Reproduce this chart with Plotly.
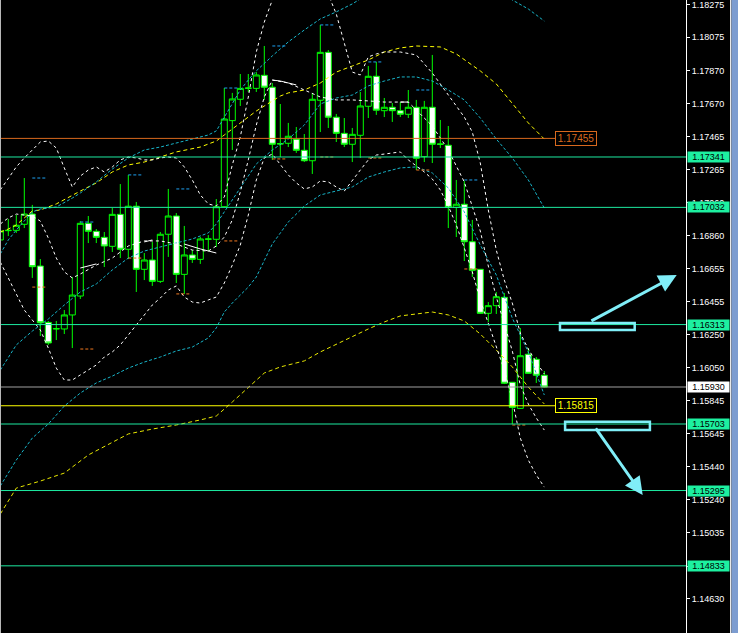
import plotly.graph_objects as go

# ---------------- candle data (bar index 0..68) ----------------
bars = list(range(69))
opens = [1.16832, 1.16889, 1.16891, 1.16928, 1.16991, 1.16672, 1.16326, 1.16286, 1.16286, 1.16372,
         1.16488, 1.16934, 1.16885, 1.16848, 1.16793, 1.16989, 1.16775, 1.17039, 1.16652, 1.16709,
         1.16578, 1.16867, 1.16979, 1.16621, 1.16740, 1.16713, 1.16836, 1.16836, 1.17036, 1.17564,
         1.17695, 1.17762, 1.17762, 1.17842, 1.17769, 1.17423, 1.17425, 1.17450, 1.17382, 1.17318,
         1.17689, 1.17983, 1.17585, 1.17486, 1.17419, 1.17474, 1.17652, 1.17836, 1.17625, 1.17646,
         1.17625, 1.17603, 1.17646, 1.17343, 1.17646, 1.17421, 1.17413, 1.17032, 1.17051, 1.16821,
         1.16652, 1.16382, 1.16429, 1.16480, 1.15959, 1.15799, 1.16131, 1.16100, 1.16002]
highs = [1.16905, 1.16961, 1.16985, 1.17212, 1.17047, 1.16715, 1.16335, 1.16335, 1.16402, 1.16605,
         1.16948, 1.16979, 1.16899, 1.16881, 1.17028, 1.17175, 1.17231, 1.17065, 1.16752, 1.16820,
         1.16881, 1.17145, 1.16997, 1.16918, 1.16770, 1.16850, 1.16862, 1.17083, 1.17764, 1.17734,
         1.17850, 1.17850, 1.17862, 1.18022, 1.17795, 1.17666, 1.17550, 1.17525, 1.17482, 1.17734,
         1.18151, 1.17997, 1.17605, 1.17580, 1.17519, 1.17740, 1.17899, 1.17924, 1.17703, 1.17672,
         1.17678, 1.17752, 1.17691, 1.17685, 1.17967, 1.17568, 1.17531, 1.17200, 1.17194, 1.16955,
         1.16654, 1.16451, 1.16513, 1.16507, 1.15961, 1.16292, 1.16169, 1.16114, 1.16028]
lows = [1.16813, 1.16856, 1.16875, 1.16905, 1.16599, 1.16243, 1.16188, 1.16218, 1.16255, 1.16169,
        1.16470, 1.16813, 1.16813, 1.16666, 1.16758, 1.16721, 1.16715, 1.16513, 1.16586, 1.16550,
        1.16568, 1.16728, 1.16568, 1.16501, 1.16691, 1.16685, 1.16764, 1.16789, 1.17034, 1.17384,
        1.17654, 1.17740, 1.17740, 1.17691, 1.17323, 1.17341, 1.17402, 1.17366, 1.17310, 1.17237,
        1.17494, 1.17519, 1.17433, 1.17402, 1.17310, 1.17335, 1.17580, 1.17599, 1.17586, 1.17556,
        1.17586, 1.17580, 1.17261, 1.17310, 1.17304, 1.17396, 1.16905, 1.16850, 1.16703, 1.16605,
        1.16378, 1.16329, 1.16378, 1.15948, 1.15703, 1.15795, 1.16010, 1.15955, 1.15927]
closes = [1.16887, 1.16891, 1.16922, 1.16991, 1.16668, 1.16324, 1.16200, 1.16288, 1.16372, 1.16494,
          1.16934, 1.16885, 1.16848, 1.16795, 1.16989, 1.16775, 1.17039, 1.16652, 1.16709, 1.16578,
          1.16867, 1.16979, 1.16621, 1.16740, 1.16713, 1.16838, 1.16838, 1.17036, 1.17574, 1.17697,
          1.17762, 1.17764, 1.17844, 1.17769, 1.17419, 1.17421, 1.17468, 1.17382, 1.17318, 1.17695,
          1.17983, 1.17585, 1.17486, 1.17419, 1.17480, 1.17654, 1.17836, 1.17628, 1.17646, 1.17625,
          1.17603, 1.17646, 1.17333, 1.17646, 1.17419, 1.17419, 1.17032, 1.17051, 1.16821, 1.16646,
          1.16382, 1.16429, 1.16484, 1.15953, 1.15805, 1.16122, 1.16014, 1.16002, 1.15930]

# ---------------- indicator curves (bar index, price) ----------------
ma_slow_idx = [0, 2, 5, 8, 11, 14, 16, 19, 22, 25, 27, 29, 31, 33, 35, 38, 40, 43, 46, 48,
               50, 54, 56, 58, 60, 62, 64, 66, 68]
ma_slow = [1.15151, 1.15310, 1.15353, 1.15402, 1.15513, 1.15593, 1.15642, 1.15672, 1.15697, 1.15728,
           1.15752, 1.15838, 1.15924, 1.16016, 1.16053, 1.16090, 1.16145, 1.16218, 1.16286, 1.16329,
           1.16366, 1.16390, 1.16372, 1.16335, 1.16255, 1.16157, 1.16053, 1.15930, 1.15826]

ma_fast_idx = [0, 1, 2, 4, 5, 7, 10, 12, 14, 16, 18, 20, 22, 25, 27, 28, 30, 32, 33, 35,
               36, 38, 40, 42, 44, 46, 48, 50, 52, 55, 57, 60, 62, 64, 66, 68]
ma_fast = [1.16881, 1.16899, 1.16924, 1.17010, 1.17016, 1.17053, 1.17132, 1.17182, 1.17249, 1.17292,
           1.17310, 1.17341, 1.17372, 1.17402, 1.17439, 1.17476, 1.17550, 1.17623, 1.17654, 1.17715,
           1.17734, 1.17752, 1.17795, 1.17862, 1.17899, 1.17936, 1.17985, 1.18010, 1.18022, 1.18016,
           1.17973, 1.17869, 1.17789, 1.17666, 1.17550, 1.17451]

cyan_idx = [0, 2, 4, 6, 8, 10, 12, 14, 16, 18, 20, 22, 24, 26, 27, 28, 29, 30, 31, 32,
            34, 36, 38, 40, 42, 44, 46, 48, 50, 52, 54, 56, 58, 60, 62, 64, 66, 68]
cyan_mid = [1.16034, 1.16188, 1.16273, 1.16347, 1.16433, 1.16513, 1.16562, 1.16648, 1.16721, 1.16764,
            1.16789, 1.16813, 1.16838, 1.16875, 1.16930, 1.17004, 1.17077, 1.17151, 1.17218, 1.17298,
            1.17384, 1.17451, 1.17537, 1.17666, 1.17703, 1.17721, 1.17777, 1.17807, 1.17832, 1.17832,
            1.17807, 1.17752, 1.17691, 1.17580, 1.17451, 1.17335, 1.17200, 1.17028]
cyan_low = [1.15323, 1.15482, 1.15617, 1.15703, 1.15813, 1.15893, 1.15955, 1.15997, 1.16046, 1.16083,
            1.16114, 1.16151, 1.16175, 1.16231, 1.16292, 1.16390, 1.16445, 1.16494, 1.16543, 1.16605,
            1.16807, 1.16942, 1.17040, 1.17108, 1.17132, 1.17157, 1.17218, 1.17249, 1.17274, 1.17280,
            1.17243, 1.17151, 1.17004, 1.16801, 1.16617, 1.16353, 1.16145, 1.15881]
cyan_up_idx = [0, 1, 2, 4, 5, 7, 9, 10, 12, 14, 16, 18, 20, 22, 24, 26, 27, 28, 29, 30,
               31, 32, 34, 36, 38, 40, 42, 44, 46, 63, 64, 66, 68]
cyan_up = [1.16746, 1.16832, 1.16893, 1.17004, 1.17022, 1.17034, 1.17089, 1.17120, 1.17188, 1.17267,
           1.17335, 1.17384, 1.17402, 1.17427, 1.17451, 1.17476, 1.17501, 1.17586, 1.17672, 1.17752,
           1.17813, 1.17869, 1.17961, 1.18047, 1.18120, 1.18188, 1.18231, 1.18280, 1.18341, 1.18335,
           1.18304, 1.18249, 1.18175]

bb_up_idx = list(range(0, 37)) + [38, 40] + list(range(41, 49)) + [50] + list(range(52, 69))
bb_up = [1.17139, 1.17212, 1.17280, 1.17335, 1.17384, 1.17433, 1.17439, 1.17396, 1.17274, 1.17157,
         1.17224, 1.17261, 1.17280, 1.17249, 1.17280, 1.17323, 1.17341, 1.17335, 1.17323, 1.17323,
         1.17335, 1.17341, 1.17335, 1.17280, 1.17200, 1.17108, 1.17053, 1.17040, 1.17096, 1.17292,
         1.17464, 1.17709, 1.17985, 1.18169, 1.18304, 1.18427, 1.18519, 1.18550, 1.18458, 1.18335,
         1.18218, 1.18040, 1.17862, 1.17844, 1.17955, 1.17973, 1.17985, 1.17985, 1.17967, 1.17912,
         1.17856, 1.17789, 1.17721, 1.17660, 1.17586, 1.17494, 1.17304, 1.17016, 1.16770, 1.16586,
         1.16445, 1.16261, 1.16163, 1.16083, 1.16010]
bb_low = [1.16697, 1.16599, 1.16494, 1.16402, 1.16341, 1.16280, 1.16169, 1.16046, 1.15973, 1.15973,
          1.16004, 1.16034, 1.16065, 1.16114, 1.16145, 1.16188, 1.16249, 1.16310, 1.16372, 1.16433,
          1.16476, 1.16525, 1.16550, 1.16482, 1.16451, 1.16445, 1.16464, 1.16482, 1.16568, 1.16678,
          1.16801, 1.16985, 1.17200, 1.17335, 1.17359, 1.17292, 1.17231, 1.17182, 1.17145, 1.17157,
          1.17194, 1.17188, 1.17157, 1.17132, 1.17200, 1.17261, 1.17323, 1.17353, 1.17359, 1.17366,
          1.17372, 1.17323, 1.17286, 1.17249, 1.17206, 1.17139, 1.17040, 1.16924, 1.16783, 1.16636,
          1.16464, 1.16323, 1.16188, 1.16034, 1.15850, 1.15617, 1.15482, 1.15390, 1.15316]
bb_mid_idx = [0, 1, 2, 4, 5, 6, 7, 8, 9, 10, 12, 14, 16, 18, 20, 22, 24, 26, 27, 28, 29,
              30, 31, 32, 33, 34, 36, 38, 40, 42, 44, 46, 48, 50, 51, 52, 54, 56, 58, 60, 61,
              62, 63, 64, 65, 66, 67, 68]
bb_mid = [1.16930, 1.16967, 1.16991, 1.16979, 1.16948, 1.16844, 1.16721, 1.16636, 1.16599, 1.16623,
          1.16678, 1.16721, 1.16795, 1.16826, 1.16826, 1.16807, 1.16770, 1.16764, 1.16795, 1.16850,
          1.16955, 1.17126, 1.17323, 1.17537, 1.17709, 1.17813, 1.17795, 1.17752, 1.17709, 1.17691,
          1.17691, 1.17685, 1.17678, 1.17678, 1.17678, 1.17629, 1.17531, 1.17384, 1.17188, 1.16887,
          1.16672, 1.16482, 1.16310, 1.16151, 1.15942, 1.15826, 1.15740, 1.15666]

# solid white average: only the pieces that show between the candles
ma_white_idx = [10, 11, 12, None, 18, 19, None, 23, 25, 27, None, 34, 35, 36, 37, None, 50, 51]
ma_white = [1.16660, 1.16672, 1.16685, None, 1.16820, 1.16832, None, 1.16807, 1.16777, 1.16752,
            None, 1.17813, 1.17807, 1.17795, 1.17783, None, 1.17678, 1.17678]

# short level dashes, one every 6 bars starting at bar 4
level_start = 4
level_step = 6
up_levels = [1.17212, 1.16942, 1.17231, 1.17145, 1.17764, 1.18022, 1.18151, 1.17924, 1.17752, 1.17200]
down_levels = [1.16543, 1.16163, 1.16721, 1.16501, 1.16826, 1.17329, 1.17341, 1.17335, 1.17261,
               1.16654, 1.15697]

# horizontal price lines
green_levels = [1.17341, 1.17032, 1.16313, 1.15703, 1.15295, 1.14833]
orange_level = 1.17455
bid_level = 1.15930
yellow_level = 1.15815

# price axis labels
tick_vals = [1.18275, 1.18075, 1.17870, 1.17670, 1.17465, 1.17265, 1.17060, 1.16860, 1.16655,
             1.16455, 1.16250, 1.16050, 1.15845, 1.15645, 1.15440, 1.15240, 1.15035, 1.14830, 1.14630]
tick_text = ["%.5f" % v for v in tick_vals]

# drawn objects (bar index, price)
boxes = [dict(i0=69.96, i1=79.3, p0=1.16280, p1=1.16323),
         dict(i0=70.6, i1=81.2, p0=1.15666, p1=1.15717)]
arrows = [dict(ti=73.7, tp=1.16331, hi=84.55, hp=1.16617),
          dict(ti=74.3, tp=1.15686, hi=80.3, hp=1.15267)]

# ---------------- figure ----------------
W, H = 738, 633
PLOT_W = 686
GREEN = "#00FF00"
CYAN = "#18B4C8"
LEVEL_GREEN = "#1DE9A0"
ARROW = "#80EEF8"

fig = go.Figure()

def curve(xs, ys, color, dash, width=1):
    fig.add_trace(go.Scatter(x=xs, y=ys, mode="lines", hoverinfo="skip", showlegend=False,
                             connectgaps=False, line=dict(color=color, width=width, dash=dash)))

curve(ma_slow_idx, ma_slow, "#E8E800", "4px,3px")
curve(ma_fast_idx, ma_fast, "#FFFF00", "4px,3px")
curve(cyan_up_idx, cyan_up, CYAN, "3px,2px")
curve(cyan_idx, cyan_mid, CYAN, "3px,2px")
curve(cyan_idx, cyan_low, CYAN, "3px,2px")
curve(bb_up_idx, bb_up, "#FFFFFF", "3px,3px")
curve(bars, bb_low, "#FFFFFF", "3px,3px")
curve(bb_mid_idx, bb_mid, "#FFFFFF", "3px,3px")
curve(ma_white_idx, ma_white, "#FFFFFF", "solid")

# level dashes
ux, uy = [], []
for k, v in enumerate(up_levels):
    s = level_start + level_step * k
    ux += [s, s + 1.85, None]
    uy += [v, v, None]
curve(ux, uy, "#1EA0F0", "3px,2px")
dx, dy = [], []
for k, v in enumerate(down_levels):
    s = level_start + level_step * k
    dx += [s, s + 1.85, None]
    dy += [v, v, None]
curve(dx, dy, "#F07820", "3px,2px")

fig.add_trace(go.Candlestick(
    x=bars, open=opens, high=highs, low=lows, close=closes,
    increasing=dict(line=dict(color=GREEN, width=1), fillcolor="#000000"),
    decreasing=dict(line=dict(color=GREEN, width=1), fillcolor="#FFFFFF"),
    whiskerwidth=0, hoverinfo="skip", showlegend=False))

shapes = []
for v in green_levels:
    shapes.append(dict(type="line", xref="paper", x0=0, x1=1, yref="y", y0=v, y1=v,
                       line=dict(color=LEVEL_GREEN, width=1)))
shapes.append(dict(type="line", xref="paper", x0=0, x1=1, yref="y", y0=bid_level, y1=bid_level,
                   line=dict(color="#A0A0A0", width=1)))
label_x = 555 / PLOT_W
shapes.append(dict(type="line", xref="paper", x0=0, x1=label_x, yref="y", y0=orange_level,
                   y1=orange_level, line=dict(color="#D8691E", width=1)))
shapes.append(dict(type="line", xref="paper", x0=0, x1=label_x, yref="y", y0=yellow_level,
                   y1=yellow_level, line=dict(color="#FFFF00", width=1)))
for b in boxes:
    shapes.append(dict(type="rect", xref="x", yref="y", x0=b["i0"], x1=b["i1"], y0=b["p0"], y1=b["p1"],
                       line=dict(color=ARROW, width=2.5), fillcolor="rgba(0,0,0,0)"))
# window frame: thin light edge at the left, light strip and blue border at the right
shapes.append(dict(type="rect", xref="paper", yref="paper", x0=0, x1=1 / PLOT_W,
                   y0=0, y1=1, line=dict(width=0), fillcolor="#B8B8B8"))
shapes.append(dict(type="rect", xref="paper", yref="paper", x0=730 / PLOT_W, x1=731.5 / PLOT_W,
                   y0=0, y1=1, line=dict(width=0), fillcolor="#E8E8E8"))
shapes.append(dict(type="rect", xref="paper", yref="paper", x0=731.5 / PLOT_W, x1=738 / PLOT_W,
                   y0=0, y1=1, line=dict(width=0), fillcolor="#7C9CD0"))

annotations = []
for a in arrows:
    annotations.append(dict(x=a["hi"], y=a["hp"], ax=a["ti"], ay=a["tp"], xref="x", yref="y",
                            axref="x", ayref="y", text="", showarrow=True, arrowhead=2,
                            arrowsize=1.2, arrowwidth=3, arrowcolor=ARROW, standoff=0))

def axis_label(v, bg):
    annotations.append(dict(x=687 / PLOT_W, y=v, xref="paper", yref="y", xanchor="left",
                            yanchor="middle", text="%.5f" % v, showarrow=False,
                            font=dict(family="Liberation Sans", size=9, color="#000000"),
                            bgcolor=bg, width=41, height=10, borderpad=0))

for v in green_levels:
    axis_label(v, "#1DF0A0")
axis_label(bid_level, "#FFFFFF")

def chart_label(v, color):
    annotations.append(dict(x=label_x, y=v, xref="paper", yref="y", xanchor="left",
                            yanchor="middle", text="%.5f" % v, showarrow=False,
                            font=dict(family="Liberation Sans", size=10, color=color),
                            bgcolor="#000000", bordercolor=color, borderwidth=1, borderpad=1,
                            width=38, height=11))

chart_label(orange_level, "#D8691E")
chart_label(yellow_level, "#FFFF00")

fig.update_layout(
    width=W, height=H,
    margin=dict(l=0, r=W - PLOT_W, t=0, b=0, autoexpand=False),
    paper_bgcolor="#000000", plot_bgcolor="#000000",
    showlegend=False, boxgap=0.25, boxgroupgap=0,
    shapes=shapes, annotations=annotations,
    xaxis=dict(range=[-0.0375, (PLOT_W - 0.3) / 8], visible=False, rangeslider=dict(visible=False),
               fixedrange=True),
    yaxis=dict(range=[1.14421, 1.18304], side="right", showgrid=False, zeroline=False,
               showline=True, linecolor="#FFFFFF", linewidth=1, ticks="outside", ticklen=3,
               tickcolor="#FFFFFF", tickvals=tick_vals, ticktext=tick_text,
               ticklabeloverflow="allow",
               tickfont=dict(family="Liberation Sans", size=9, color="#FFFFFF"), fixedrange=True),
)

fig.write_html("out.html", config={"displayModeBar": False},
               post_script="document.body.style.margin='0px';document.body.style.overflow='hidden';")
